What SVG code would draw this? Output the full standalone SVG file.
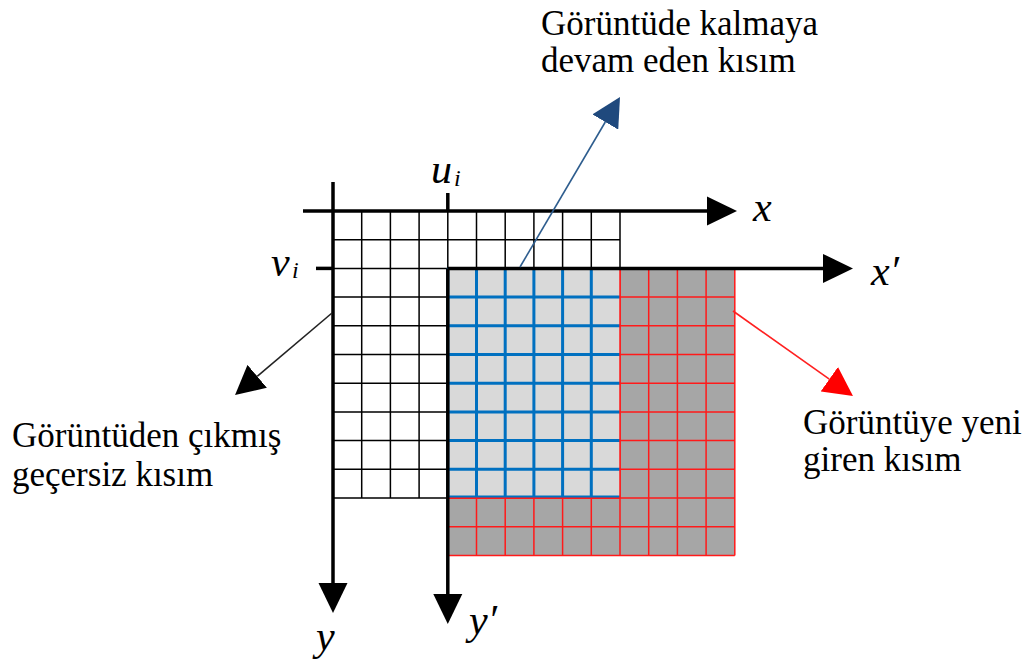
<svg xmlns="http://www.w3.org/2000/svg" width="1032" height="666" viewBox="0 0 1032 666">
<style>
.old{stroke:#000;stroke-width:1.5;fill:none}
.red{stroke:#ff1a1a;stroke-width:1.5;fill:none}
.blue{stroke:#0070c0;stroke-width:3;fill:none}
.axis{stroke:#000;stroke-width:3.5;fill:none}
.lbl{font-size:35px;fill:#000}
.math{font-style:italic;font-size:42px;fill:#000}
.sub{font-style:italic;font-size:24px;fill:#000}
</style>
<defs>
<marker id="ah" viewBox="0 -15 30 30" markerWidth="30" markerHeight="30" refX="0" refY="0" orient="auto" markerUnits="userSpaceOnUse"><path d="M0,-14.5 L30,0 L0,14.5 z" fill="#000"/></marker>
<marker id="ah-black" viewBox="0 -15 30 30" markerWidth="30" markerHeight="30" refX="0" refY="0" orient="auto" markerUnits="userSpaceOnUse"><path d="M0,-15 L29,0 L0,15 z" fill="#000"/></marker>
<marker id="ah-blue" viewBox="0 -15 30 30" markerWidth="30" markerHeight="30" refX="0" refY="0" orient="auto" markerUnits="userSpaceOnUse"><path d="M0,-15 L29,0 L0,15 z" fill="#1f497d"/></marker>
<marker id="ah-red" viewBox="0 -15 30 30" markerWidth="30" markerHeight="30" refX="0" refY="0" orient="auto" markerUnits="userSpaceOnUse"><path d="M0,-15 L29,0 L0,15 z" fill="#ff0000"/></marker>
</defs>
<rect width="1032" height="666" fill="#fff"/>

<g id="grid-old">
<path class="old" d="M333,211V498 M361.7,211V498 M390.4,211V498 M419.1,211V498 M447.8,211V498 M476.5,211V498 M505.2,211V498 M533.9,211V498 M562.6,211V498 M591.3,211V498 M620,211V498 M333,211H620 M333,239.7H620 M333,268.4H620 M333,297.1H620 M333,325.8H620 M333,354.5H620 M333,383.2H620 M333,411.9H620 M333,440.6H620 M333,469.3H620 M333,498H620"/>
</g>

<g id="grid-new">
<rect x="447.8" y="268.4" width="287" height="287" fill="#a6a6a6"/>
<path class="red" d="M476.5,268.4V555.4 M505.2,268.4V555.4 M533.9,268.4V555.4 M562.6,268.4V555.4 M591.3,268.4V555.4 M620,268.4V555.4 M648.7,268.4V555.4 M677.4,268.4V555.4 M706.1,268.4V555.4 M734.8,268.4V555.4 M447.8,297.1H734.8 M447.8,325.8H734.8 M447.8,354.5H734.8 M447.8,383.2H734.8 M447.8,411.9H734.8 M447.8,440.6H734.8 M447.8,469.3H734.8 M447.8,498H734.8 M447.8,526.7H734.8 M447.8,555.4H734.8"/>
</g>

<g id="overlap">
<rect x="447.8" y="268.4" width="172.2" height="229.6" fill="#d9d9d9"/>
<path class="blue" d="M447.8,268.4V498 M476.5,268.4V498 M505.2,268.4V498 M533.9,268.4V498 M562.6,268.4V498 M591.3,268.4V498 M447.8,268.4H620 M447.8,297.1H620 M447.8,325.8H620 M447.8,354.5H620 M447.8,383.2H620 M447.8,411.9H620 M447.8,440.6H620 M447.8,469.3H620 M447.8,497H620"/>
<path class="red" d="M620,268.4V498 M447.8,498.3H620"/>
</g>

<g id="axes">
<line class="axis" x1="303" y1="211" x2="707" y2="211" marker-end="url(#ah)"/>
<line class="axis" x1="447.8" y1="268.4" x2="823" y2="268.4" marker-end="url(#ah)"/>
<line class="axis" x1="333" y1="182" x2="333" y2="583" marker-end="url(#ah)"/>
<line class="axis" x1="447.8" y1="268.4" x2="447.8" y2="594" marker-end="url(#ah)"/>
<line class="axis" x1="447.8" y1="193" x2="447.8" y2="211"/>
<line class="axis" x1="316" y1="268.4" x2="333" y2="268.4"/>
</g>

<g id="connectors">
<line x1="520" y1="267" x2="605.3" y2="122" stroke="#2e5d8e" stroke-width="1.6" marker-end="url(#ah-blue)"/>
<line x1="332" y1="313" x2="257.2" y2="376.3" stroke="#222" stroke-width="1.6" marker-end="url(#ah-black)"/>
<line x1="733" y1="311" x2="829.3" y2="379.2" stroke="#ff2020" stroke-width="1.6" marker-end="url(#ah-red)"/>
</g>

<g id="label-axes" font-family="'Liberation Serif', 'DejaVu Serif', serif">
<text class="math" x="753" y="221">x</text>
<text class="math" x="871" y="285">x′</text>
<text class="math" x="316" y="650">y</text>
<text class="math" x="469" y="634">y′</text>
<text class="math" x="431" y="183">u</text><text class="sub" x="454" y="186">i</text>
<text class="math" x="271" y="276">v</text><text class="sub" x="292" y="278">i</text>
</g>

<g id="label-remaining" font-family="'Liberation Serif', 'DejaVu Serif', serif">
<text class="lbl" x="541" y="35">Görüntüde kalmaya</text>
<text class="lbl" x="541" y="72">devam eden kısım</text>
</g>
<g id="label-removed" font-family="'Liberation Serif', 'DejaVu Serif', serif">
<text class="lbl" x="12" y="447">Görüntüden çıkmış</text>
<text class="lbl" x="12" y="486">geçersiz kısım</text>
</g>
<g id="label-new" font-family="'Liberation Serif', 'DejaVu Serif', serif">
<text class="lbl" x="803" y="434">Görüntüye yeni</text>
<text class="lbl" x="803" y="471">giren kısım</text>
</g>
</svg>
